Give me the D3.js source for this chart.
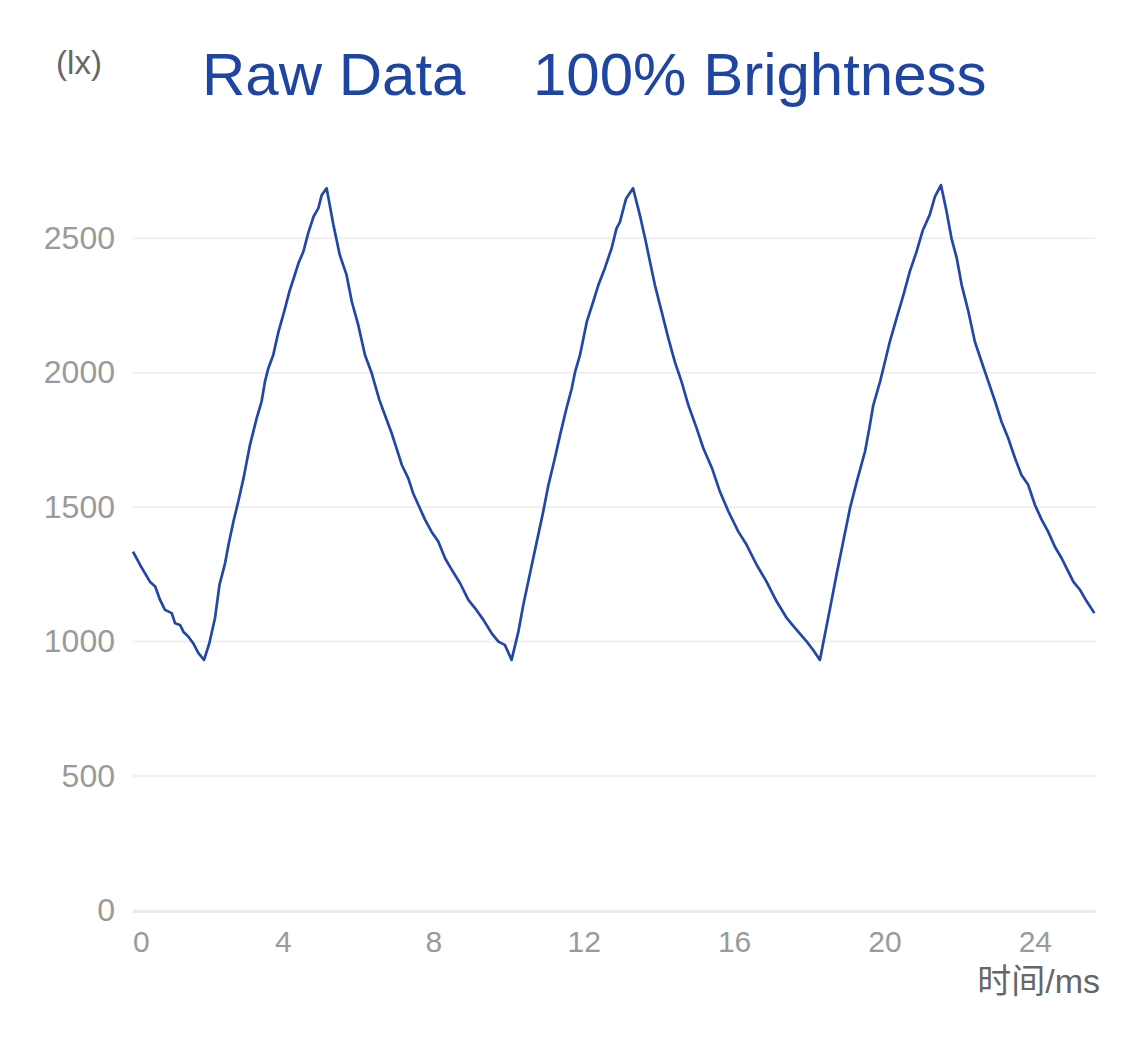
<!DOCTYPE html>
<html>
<head>
<meta charset="utf-8">
<script src="https://cdn.jsdelivr.net/npm/d3@7"></script>
<style>
html,body{margin:0;padding:0;background:#fff;}
svg{display:block;}
</style>
</head>
<body>
<svg id="chart" width="1125" height="1040"></svg>
<script>
const titleParts = ["Raw Data", "100% Brightness"];
const yUnit = "(lx)";
const xName = "时间/ms";
const xTicks = [0, 4, 8, 12, 16, 20, 24];
const yTicks = [0, 500, 1000, 1500, 2000, 2500];

const timeMs = [0, 0.19, 0.32, 0.45, 0.59, 0.72, 0.85, 1.03, 1.12, 1.25, 1.34, 1.47, 1.60, 1.74, 1.89,
  2.03, 2.18, 2.30, 2.45, 2.54, 2.67, 2.80, 2.94, 3.11, 3.29, 3.42, 3.51, 3.60, 3.73, 3.87, 4.02, 4.16,
  4.26, 4.40, 4.53, 4.66, 4.80, 4.93, 5.02, 5.15, 5.33, 5.50, 5.68, 5.82, 5.99, 6.17, 6.35, 6.55, 6.70,
  6.88, 7.01, 7.15, 7.32, 7.45, 7.63, 7.77, 7.94, 8.12, 8.30, 8.48, 8.70, 8.92, 9.10, 9.32, 9.54, 9.72,
  9.89, 10.07, 10.25, 10.38, 10.56, 10.74, 10.91, 11.05, 11.22, 11.36, 11.53, 11.67, 11.76, 11.89, 12.07,
  12.24, 12.38, 12.55, 12.73, 12.86, 12.95, 13.07, 13.12, 13.30, 13.48, 13.62, 13.75, 13.88, 14.06, 14.24,
  14.41, 14.59, 14.77, 14.99, 15.17, 15.40, 15.61, 15.84, 16.10, 16.32, 16.59, 16.85, 17.12, 17.39, 17.65,
  17.92, 18.09, 18.27, 18.40, 18.54, 18.71, 18.89, 19.07, 19.25, 19.42, 19.47, 19.60, 19.69, 19.87, 20.00,
  20.13, 20.31, 20.49, 20.66, 20.84, 21.01, 21.19, 21.33, 21.49, 21.64, 21.77, 21.91, 22.04, 22.22, 22.39,
  22.57, 22.75, 22.93, 23.10, 23.28, 23.46, 23.63, 23.81, 23.99, 24.17, 24.34, 24.52, 24.70, 24.83, 25.01,
  25.19, 25.37, 25.57];

const lux = [1335, 1285, 1254, 1223, 1205, 1155, 1118, 1106, 1068, 1062, 1037, 1019, 994, 957, 932,
  994, 1087, 1211, 1292, 1360, 1446, 1521, 1608, 1731, 1831, 1893, 1967, 2017, 2066, 2153, 2227, 2302,
  2345, 2407, 2450, 2519, 2580, 2612, 2661, 2686, 2550, 2438, 2364, 2264, 2178, 2066, 1998, 1900, 1843,
  1775, 1719, 1657, 1608, 1552, 1496, 1453, 1409, 1372, 1310, 1267, 1217, 1155, 1124, 1081, 1031, 1000,
  988, 932, 1037, 1136, 1254, 1372, 1483, 1583, 1682, 1769, 1868, 1942, 2004, 2066, 2190,
  2264, 2327, 2389, 2463, 2537, 2560, 2624, 2649, 2686, 2587, 2500, 2413, 2327, 2227, 2128,
  2041, 1967, 1880, 1794, 1719, 1645, 1558, 1483, 1409, 1360, 1285, 1223, 1149, 1087, 1044,
  1000, 969, 932, 1025, 1124, 1248, 1372, 1496, 1595, 1682, 1707, 1806, 1880, 1967, 2041,
  2116, 2203, 2289, 2376, 2450, 2531, 2587, 2655, 2698, 2599, 2500, 2426, 2327, 2227, 2116,
  2041, 1967, 1893, 1818, 1756, 1682, 1620, 1583, 1508, 1453, 1409, 1353, 1310, 1273, 1223,
  1192, 1149, 1106];

const data = timeMs.map((t, i) => ({t, v: lux[i]}));

const svg = d3.select("#chart");
const left = 133, right = 1095.5;
const x = d3.scaleLinear().domain([0, 25.6]).range([left, right]);
const y = d3.scaleLinear().domain([0, 2500]).range([910.5, 238.3]);

const font = "'Liberation Sans', Arial, 'Noto Sans CJK SC', sans-serif";

// grid lines
svg.append("g").selectAll("line").data(yTicks).join("line")
  .attr("x1", left).attr("x2", right)
  .attr("y1", d => y(d)).attr("y2", d => y(d))
  .attr("stroke", "#efefef").attr("stroke-width", 2);

// x axis line
svg.append("line")
  .attr("x1", left).attr("x2", right)
  .attr("y1", y(0) + 1.5).attr("y2", y(0) + 1.5)
  .attr("stroke", "#d6d6d6").attr("stroke-width", 1);

// y tick labels
svg.append("g").selectAll("text").data(yTicks).join("text")
  .attr("x", 115).attr("y", d => y(d) + 10.5)
  .attr("text-anchor", "end")
  .attr("font-family", font).attr("font-size", 32)
  .attr("fill", "#9a9a9a")
  .text(d => d);

// x tick labels
svg.append("g").selectAll("text").data(xTicks).join("text")
  .attr("x", d => x(d)).attr("y", y(0) + 41)
  .attr("text-anchor", (d, i) => i === 0 ? "start" : "middle")
  .attr("font-family", font).attr("font-size", 30)
  .attr("fill", "#9a9a9a")
  .text(d => d);

// axis names
svg.append("text")
  .attr("x", 1100).attr("y", 993)
  .attr("text-anchor", "end")
  .attr("font-family", font).attr("font-size", 34)
  .attr("fill", "#666")
  .text(xName);

svg.append("text")
  .attr("x", 79).attr("y", 74)
  .attr("text-anchor", "middle")
  .attr("font-family", font).attr("font-size", 33)
  .attr("fill", "#666")
  .text(yUnit);

// title
svg.append("text")
  .attr("x", 202).attr("y", 95)
  .attr("font-family", font).attr("font-size", 60)
  .attr("fill", "#1f45a3")
  .text(titleParts[0]);
svg.append("text")
  .attr("x", 533).attr("y", 95)
  .attr("font-family", font).attr("font-size", 60)
  .attr("fill", "#1f45a3")
  .text(titleParts[1]);

// line
const line = d3.line().x(d => x(d.t)).y(d => y(d.v));
svg.append("path")
  .datum(data)
  .attr("d", line)
  .attr("fill", "none")
  .attr("stroke", "#2347a6")
  .attr("stroke-width", 2.7)
  .attr("stroke-linejoin", "round");
</script>
</body>
</html>
